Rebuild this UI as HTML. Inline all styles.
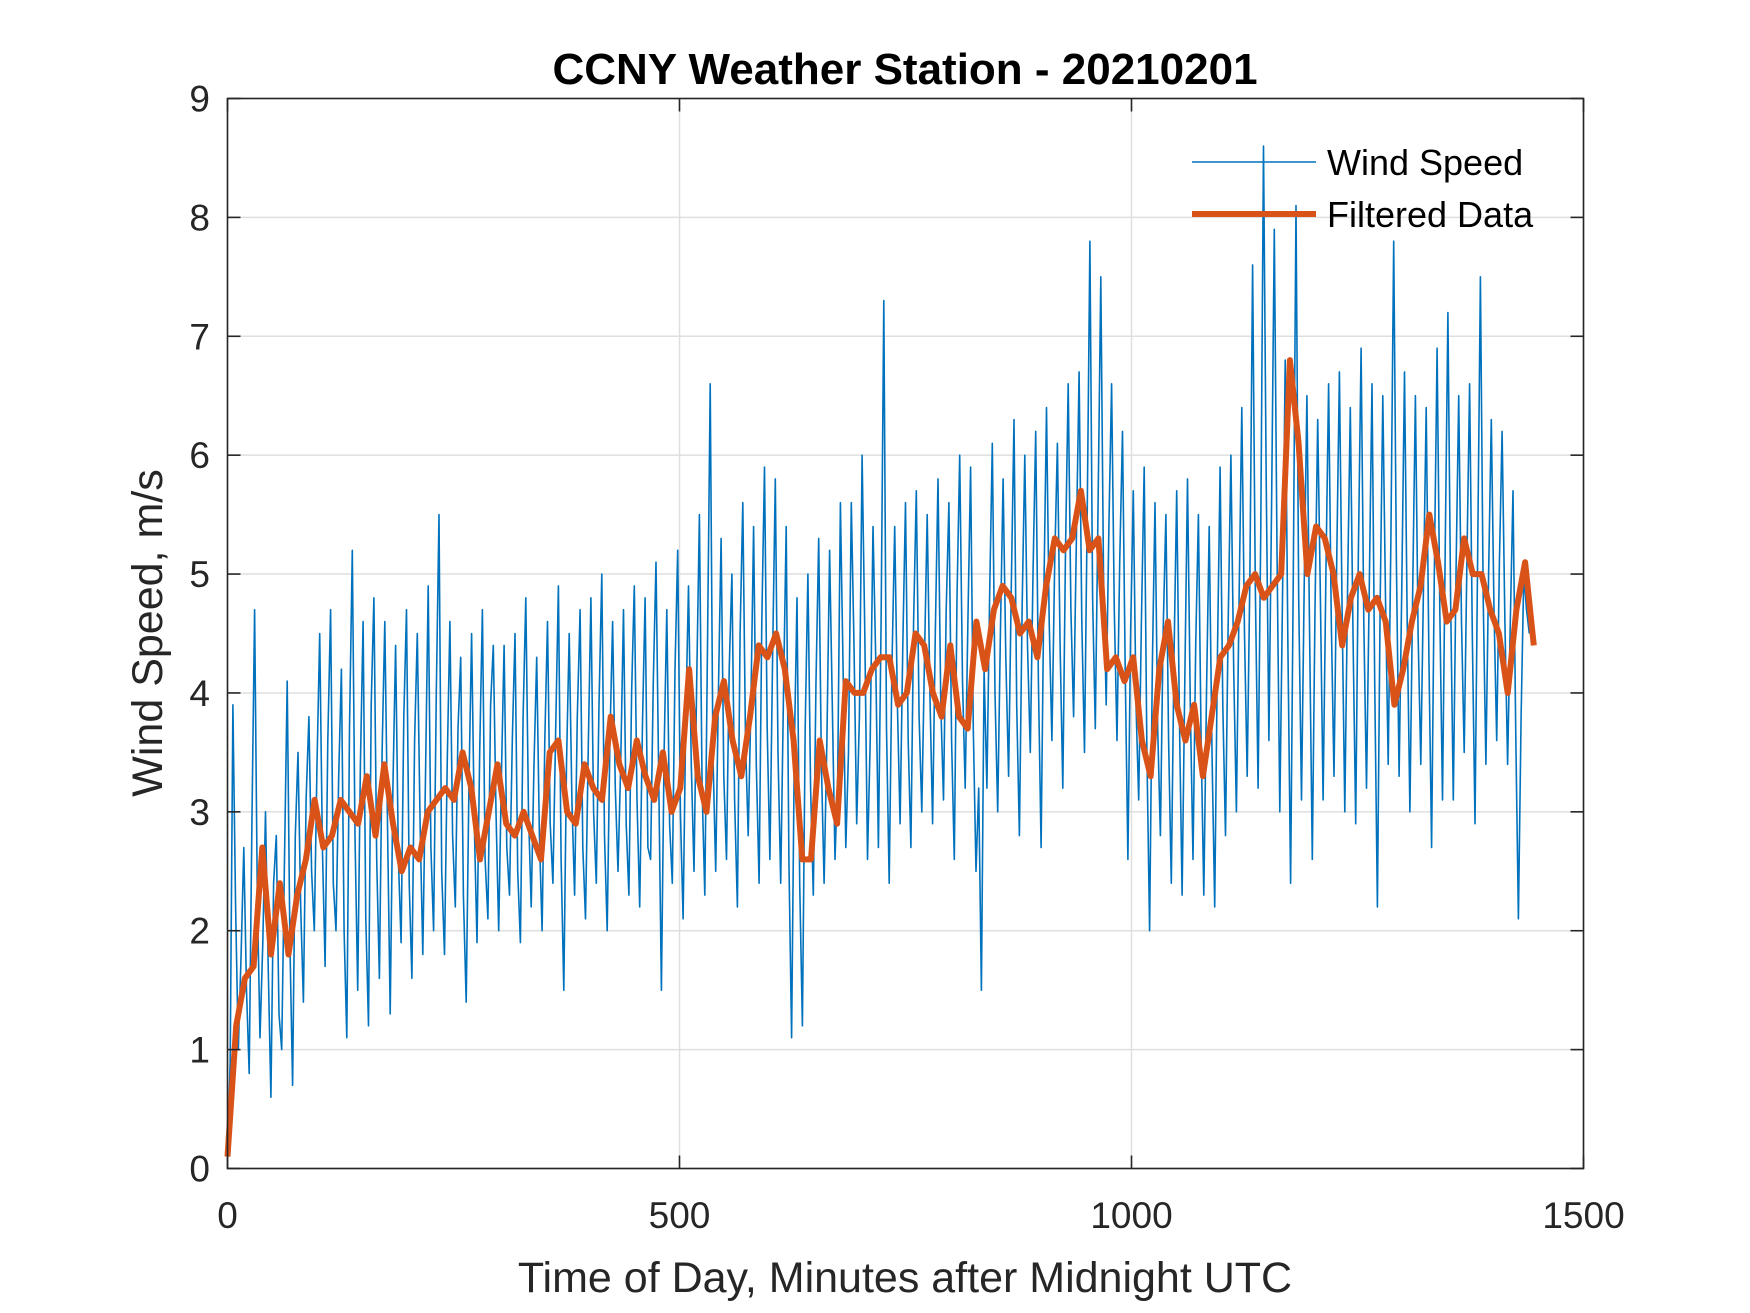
<!DOCTYPE html>
<html><head><meta charset="utf-8"><style>
html,body{margin:0;padding:0;background:#fff;}
svg{display:block;font-family:"Liberation Sans",Arial,sans-serif;}
</style></head><body>
<svg id="chart" width="1750" height="1313" viewBox="0 0 1750 1313">
<rect width="1750" height="1313" fill="#fff"/>
<g id="grid"></g>
<g id="series"></g>
<rect x="227.5" y="98.5" width="1356" height="1070" fill="none" stroke="#262626" stroke-width="1.6"/>
<g id="ticks"></g>
<text x="905" y="84" text-anchor="middle" font-size="44" font-weight="bold" fill="#000">CCNY Weather Station - 20210201</text>
<text x="905" y="1292" text-anchor="middle" font-size="43" fill="#262626">Time of Day, Minutes after Midnight UTC</text>
<text transform="translate(162,633) rotate(-90)" text-anchor="middle" font-size="43" fill="#262626">Wind Speed, m/s</text>
<g>
<line x1="1192" y1="162" x2="1316" y2="162" stroke="#0072BD" stroke-width="1.5"/>
<text x="1327" y="175" font-size="36" fill="#000">Wind Speed</text>
<line x1="1192" y1="214" x2="1316" y2="214" stroke="#D95319" stroke-width="6"/>
<text x="1327" y="227" font-size="36" fill="#000">Filtered Data</text>
</g>
</svg>
<script>
const xTicks=[0,500,1000,1500];
const yTicks=[0,1,2,3,4,5,6,7,8,9];
const windStep=6;
const windValues=[
0.1,3.9,1.0,2.7,0.8,4.7,1.1,3.0,0.6,2.8,
1.0,4.1,0.7,3.5,1.4,3.8,2.0,4.5,1.7,4.7,
2.0,4.2,1.1,5.2,1.5,4.6,1.2,4.8,1.6,4.6,
1.3,4.4,1.9,4.7,1.6,4.5,1.8,4.9,2.0,5.5,
1.8,4.6,2.2,4.3,1.4,4.5,1.9,4.7,2.1,4.4,
2.0,4.4,2.3,4.5,1.9,4.8,2.2,4.3,2.0,4.6,
2.4,4.9,1.5,4.5,2.3,4.7,2.1,4.8,2.4,5.0,
2.0,4.6,2.5,4.7,2.3,4.9,2.2,4.8,2.6,5.1,
1.5,4.7,2.4,5.2,2.1,4.9,2.5,5.5,2.3,6.6,
2.5,5.3,2.6,5.0,2.2,5.6,2.8,5.4,2.4,5.9,
2.6,5.8,2.4,5.4,1.1,4.8,1.2,5.0,2.3,5.3,
2.4,5.2,2.6,5.6,2.7,5.6,2.9,6.0,2.6,5.4,
2.7,7.3,2.4,5.4,2.9,5.6,2.7,5.7,3.0,5.5,
2.9,5.8,3.1,5.6,2.6,6.0,3.2,5.9,2.5,1.5,
3.2,6.1,3.0,5.8,3.3,6.3,2.8,6.0,3.5,6.2,
2.7,6.4,3.6,6.1,3.2,6.6,3.8,6.7,3.5,7.8,
3.7,7.5,3.9,6.6,3.6,6.2,2.6,5.7,3.1,5.9,
2.0,5.6,2.8,5.5,2.4,5.7,2.3,5.8,2.6,5.5,
2.3,5.4,2.2,5.9,2.8,6.0,3.0,6.4,3.3,7.6,
3.2,8.6,3.6,7.9,3.0,6.8,2.4,8.1,3.1,6.5,
2.6,6.3,3.1,6.6,3.3,6.7,3.0,6.4,2.9,6.9,
3.2,6.6,2.2,6.5,3.4,7.8,3.3,6.7,3.0,6.5,
3.4,6.4,2.7,6.9,3.1,7.2,3.1,6.5,3.5,6.6,
2.9,7.5,3.4,6.3,3.6,6.2,3.4,5.7,2.1,5.0,
4.5];
const windMid=[
0.9,2.2,1.8,1.5,2.9,2.3,1.9,1.7,2.4,1.3,
2.6,1.9,2.8,2.2,3.1,2.5,3.4,2.7,3.6,2.4,
3.3,2.0,3.7,2.8,3.4,2.1,3.9,2.6,3.5,2.9,
3.2,2.6,3.8,2.4,3.6,2.9,3.3,2.7,4.0,2.5,
3.4,2.8,3.7,2.3,3.2,2.9,3.5,2.6,3.9,3.0,
3.3,2.7,3.6,2.5,3.8,3.0,3.4,2.8,3.6,2.9,
3.7,2.6,3.4,3.1,3.8,2.7,3.5,3.0,3.9,2.8,
3.6,3.2,3.4,2.9,4.0,3.1,3.7,2.7,4.1,3.3,
3.5,2.9,4.2,3.0,3.8,3.4,4.1,3.2,4.4,3.5,
4.0,3.3,4.2,3.1,4.5,3.6,3.9,3.4,4.6,3.7,
4.3,3.5,4.0,2.6,3.5,2.4,3.7,3.2,4.1,3.4,
3.6,3.9,3.3,4.2,3.5,4.4,3.8,4.5,3.6,4.3,
4.6,3.7,4.2,3.9,4.4,3.6,4.6,3.8,4.3,4.0,
4.5,3.9,4.7,3.6,4.8,4.1,4.6,3.7,3.2,4.2,
4.8,4.0,4.5,4.3,4.9,3.9,4.7,4.4,5.0,4.1,
4.8,4.6,5.1,4.4,5.2,4.7,5.3,4.6,5.5,4.8,
5.6,5.0,5.4,4.7,5.1,4.2,4.5,3.9,4.6,3.5,
4.2,3.7,4.5,3.6,4.3,3.8,4.1,3.9,4.4,3.6,
4.0,3.5,4.3,3.9,4.6,4.2,4.8,4.5,5.0,4.9,
5.4,5.8,5.6,5.2,4.8,4.4,5.0,4.8,4.9,4.5,
4.7,4.8,5.0,4.6,5.1,4.7,4.9,4.5,5.2,4.6,
4.9,4.1,4.7,4.8,5.3,5.1,4.9,4.6,4.8,4.5,
4.9,4.3,5.0,4.7,5.2,4.8,5.0,4.6,5.1,4.5,
5.2,4.8,5.0,4.7,5.1,4.6,4.6,3.7,3.8,4.7];
const filteredEnd=1445;
const filteredValues=[0.1,1.2,1.6,1.7,2.7,1.8,2.4,1.8,2.3,2.6,3.1,2.7,2.8,3.1,3.0,2.9,3.3,2.8,3.4,2.9,
2.5,2.7,2.6,3.0,3.1,3.2,3.1,3.5,3.2,2.6,3.0,3.4,2.9,2.8,3.0,2.8,2.6,3.5,3.6,3.0,
2.9,3.4,3.2,3.1,3.8,3.4,3.2,3.6,3.3,3.1,3.5,3.0,3.2,4.2,3.3,3.0,3.8,4.1,3.6,3.3,
3.8,4.4,4.3,4.5,4.2,3.6,2.6,2.6,3.6,3.2,2.9,4.1,4.0,4.0,4.2,4.3,4.3,3.9,4.0,4.5,
4.4,4.0,3.8,4.4,3.8,3.7,4.6,4.2,4.7,4.9,4.8,4.5,4.6,4.3,4.9,5.3,5.2,5.3,5.7,5.2,
5.3,4.2,4.3,4.1,4.3,3.6,3.3,4.2,4.6,3.9,3.6,3.9,3.3,3.8,4.3,4.4,4.6,4.9,5.0,4.8,
4.9,5.0,6.8,6.1,5.0,5.4,5.3,5.0,4.4,4.8,5.0,4.7,4.8,4.6,3.9,4.2,4.6,4.9,5.5,5.1,4.6,4.7,
5.3,5.0,5.0,4.7,4.5,4.0,4.7,5.1,4.4];

const L=227.5,R=1583.5,T=98.5,B=1168.5;
const xS=v=>L+(v-0)/(1500-0)*(R-L);
const yS=v=>B-(v-0)/(9-0)*(B-T);
const NS="http://www.w3.org/2000/svg";
const grid=document.getElementById('grid'),ticks=document.getElementById('ticks'),series=document.getElementById('series');
function mk(tag,attrs,parent){const e=document.createElementNS(NS,tag);for(const k in attrs)e.setAttribute(k,attrs[k]);parent.appendChild(e);return e;}
xTicks.forEach(v=>{
  const x=xS(v);
  const g=mk('line',{x1:x,x2:x,y1:T,y2:B,stroke:'#dfdfdf','stroke-width':1.5},grid);
  
  
  const t1=mk('line',{x1:x,x2:x,y1:B,y2:B-13,stroke:'#262626','stroke-width':1.6},ticks);
  
  
  const t2=mk('line',{x1:x,x2:x,y1:T,y2:T+13,stroke:'#262626','stroke-width':1.6},ticks);
  
  
  const tx=mk('text',{x:x,y:1228,'text-anchor':'middle','font-size':37,fill:'#262626'},ticks);
  tx.textContent=v;
  
  
});
yTicks.forEach(v=>{
  const y=yS(v);
  const g=mk('line',{x1:L,x2:R,y1:y,y2:y,stroke:'#dfdfdf','stroke-width':1.5},grid);
  
  
  const t1=mk('line',{x1:L,x2:L+13,y1:y,y2:y,stroke:'#262626','stroke-width':1.6},ticks);
  
  
  const t2=mk('line',{x1:R,x2:R-13,y1:y,y2:y,stroke:'#262626','stroke-width':1.6},ticks);
  
  
  const tx=mk('text',{x:210,y:y+13,'text-anchor':'end','font-size':37,fill:'#262626'},ticks);
  tx.textContent=v;
  
  
});
const pts=[];
windValues.forEach((v,i)=>{
  pts.push(xS(i*windStep).toFixed(1)+','+yS(v).toFixed(1));
  if(i<windMid.length) pts.push(xS(i*windStep+windStep/2).toFixed(1)+','+yS(windMid[i]).toFixed(1));
});
const w=mk('polyline',{points:pts.join(' '),fill:'none',stroke:'#0072BD','stroke-width':1.6,'stroke-linejoin':'round'},series);


const fStep=filteredEnd/(filteredValues.length-1);
const fp=filteredValues.map((v,i)=>xS(i*fStep).toFixed(1)+','+yS(v).toFixed(1)).join(' ');
const f=mk('polyline',{points:fp,fill:'none',stroke:'#D95319','stroke-width':6,'stroke-linejoin':'round'},series);


</script>
</body></html>
